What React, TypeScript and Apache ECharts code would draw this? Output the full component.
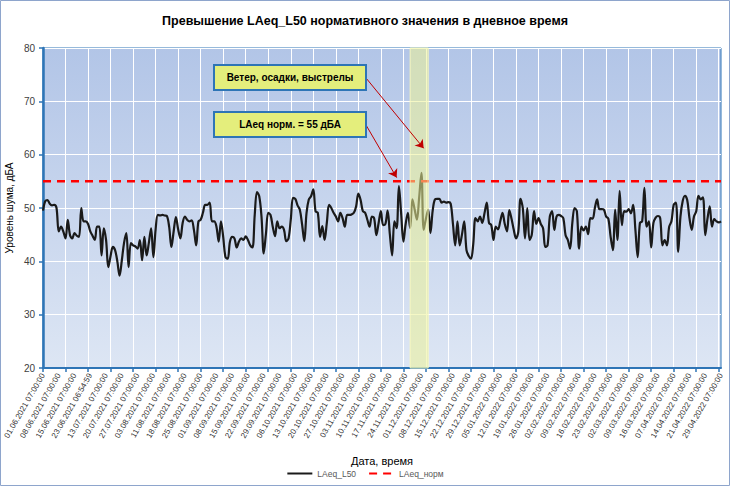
import React, { useEffect, useRef } from 'react';
import * as echarts from 'echarts';

const FONT = '"Liberation Sans", Arial, sans-serif';

const TITLE = 'Превышение LAeq_L50 нормативного значения в дневное время';

// tick labels: every 7th category carries one
const labelDates = [
  '01.06.2021 07:00:00', '08.06.2021 07:00:00', '15.06.2021 07:00:00', '23.06.2021 06:54:59',
  '13.07.2021 07:00:00', '20.07.2021 07:00:00', '27.07.2021 07:00:00', '03.08.2021 07:00:00',
  '11.08.2021 07:00:00', '18.08.2021 07:00:00', '25.08.2021 07:00:00', '01.09.2021 07:00:00',
  '08.09.2021 07:00:00', '15.09.2021 07:00:00', '22.09.2021 07:00:00', '29.09.2021 07:00:00',
  '06.10.2021 07:00:00', '13.10.2021 07:00:00', '20.10.2021 07:00:00', '27.10.2021 07:00:00',
  '03.11.2021 07:00:00', '10.11.2021 07:00:00', '17.11.2021 07:00:00', '24.11.2021 07:00:00',
  '01.12.2021 07:00:00', '08.12.2021 07:00:00', '15.12.2021 07:00:00', '22.12.2021 07:00:00',
  '29.12.2021 07:00:00', '05.01.2022 07:00:00', '12.01.2022 07:00:00', '19.01.2022 07:00:00',
  '26.01.2022 07:00:00', '02.02.2022 07:00:00', '09.02.2022 07:00:00', '16.02.2022 07:00:00',
  '23.02.2022 07:00:00', '02.03.2022 07:00:00', '09.03.2022 07:00:00', '16.03.2022 07:00:00',
  '07.04.2022 07:00:00', '14.04.2022 07:00:00', '21.04.2022 07:00:00', '29.04.2022 07:00:00',
];

// LAeq_L50 values, dB(A)
const levelsJunJul = [
  49.5, 51.3, 51.5, 50.8, 50.5, 50.6, 50.0, 45.6, 46.5, 45.6,
  44.3, 47.8, 44.9, 44.3, 45.3, 44.8, 44.6, 50.0, 47.5, 47.5,
  47.0, 45.6, 44.8, 44.0, 46.5, 46.5, 41.1, 46.2, 44.0, 38.9,
  41.0, 42.7, 42.1, 40.0, 37.3, 40.2, 43.5, 45.3, 38.9, 43.4,
  43.0, 42.8, 42.4, 44.0, 40.2, 44.6, 41.1, 43.5, 46.2, 40.8,
];
const levelsAugSep = [
  46.0, 48.7, 48.6, 48.7, 48.6, 48.5, 46.5, 42.7, 45.6, 48.3,
  46.0, 44.3, 47.2, 48.4, 47.8, 47.5, 47.7, 45.9, 43.0, 47.5,
  47.8, 49.1, 50.6, 50.6, 51.0, 47.5, 47.5, 46.5, 43.7, 47.5,
  44.6, 40.8, 40.5, 43.7, 44.6, 44.3, 42.6, 43.7, 44.3, 44.0,
  44.7, 44.0, 43.0, 42.6, 48.7, 53.0, 52.2, 48.4, 41.5, 45.3,
  49.1,
];
const levelsSepNov = [
  48.7, 46.5, 44.7, 47.5, 46.2, 46.5, 45.9, 43.8, 44.3, 47.8,
  51.9, 51.7, 50.5, 49.7, 47.0, 43.8, 49.1, 51.6, 52.2, 53.5,
  49.4, 49.1, 44.6, 46.6, 44.0, 47.2, 50.6, 50.0, 49.1, 48.4,
  47.5, 49.1, 48.1, 46.5, 48.7, 48.7, 48.8, 49.1, 50.3, 52.7,
  51.5, 49.4, 49.1, 47.8, 46.5, 48.4, 48.1, 44.9, 47.2, 49.4,
  46.8,
];
const levelsNovJan = [
  47.0, 49.5, 45.0, 41.1, 47.5, 46.2, 54.1, 49.0, 43.7, 47.0,
  49.1, 46.2, 51.6, 49.7, 47.8, 52.0, 56.6, 45.9, 48.0, 49.7,
  45.3, 49.5, 51.6, 51.7, 51.7, 51.0, 51.2, 51.0, 51.1, 50.8,
  47.0, 43.0, 47.5, 43.0, 45.0, 47.5, 42.1, 41.0, 40.5, 43.2,
  48.1, 47.5, 48.4, 47.2, 49.0, 51.0, 47.2, 46.8, 44.0, 46.5,
  46.0,
];
const levelsJanMar = [
  47.5, 49.1, 47.0, 45.6, 49.6, 48.0, 45.9, 44.3, 45.5, 51.7,
  50.0, 44.3, 50.0, 44.0, 45.0, 49.4, 47.0, 48.1, 47.0, 46.2,
  42.7, 43.0, 48.4, 49.4, 45.9, 48.4, 48.7, 48.5, 48.1, 44.9,
  44.0, 42.4, 47.2, 50.0, 49.4, 42.4, 46.5, 45.8, 46.5, 45.1,
  48.1, 48.0, 50.0, 51.6, 49.8, 49.8, 49.7, 48.4, 48.0, 44.6,
  42.1, 49.7,
];
const levelsMarApr = [
  44.0, 53.2, 46.8, 49.4, 49.3, 49.8, 49.0, 50.6, 45.9, 40.8,
  47.2, 47.5, 53.8, 46.5, 47.5, 42.6, 47.2, 48.2, 48.5, 48.1,
  43.0, 44.0, 43.0, 46.5, 47.5, 50.6, 51.0, 41.8, 48.4, 51.3,
  52.3, 51.5, 48.1, 45.9, 48.4, 49.4, 52.3, 51.6, 52.0, 44.9,
  48.0, 50.3, 46.5, 47.9, 47.5, 47.3, 47.5,
];

const NORM = 55;
// highlighted period (category indices) and arrow targets [index, value]
const bandRange = [163, 171];
const arrowWind = [169, 61.2];
const arrowNorm = [157, 55.7];

const pad = (n: number) => (n < 10 ? '0' + n : '' + n);

function buildCategories(): string[] {
  const out: string[] = [];
  labelDates.forEach((lab, k) => {
    out.push(lab);
    if (k === labelDates.length - 1) return;
    const [d, m, y] = lab.slice(0, 10).split('.').map(Number);
    for (let j = 1; j < 7; j++) {
      const dt = new Date(Date.UTC(y, m - 1, d + j));
      out.push(pad(dt.getUTCDate()) + '.' + pad(dt.getUTCMonth() + 1) + '.' + dt.getUTCFullYear() + ' 07:00:00');
    }
  });
  return out;
}

export default function App() {
  const ref = useRef<HTMLDivElement>(null);

  useEffect(() => {
    document.body.style.margin = '0';
    if (!ref.current) return;
    const chart = echarts.init(ref.current, null, { renderer: 'svg' });
    const categories = buildCategories();
    const levels = [
      ...levelsJunJul, ...levelsAugSep, ...levelsSepNov,
      ...levelsNovJan, ...levelsJanMar, ...levelsMarApr,
    ];
    const normValues = categories.map(() => NORM);
    const blue = '#2e75b6';

    chart.setOption({
      animation: false,
      backgroundColor: '#ffffff',
      textStyle: { fontFamily: FONT },
      title: {
        text: TITLE,
        left: 'center',
        top: 9,
        textStyle: { fontSize: 12.5, fontWeight: 'bold', color: '#000', fontFamily: FONT },
      },
      legend: {
        top: 464,
        left: 'center',
        itemWidth: 25,
        itemHeight: 10,
        itemGap: 12,
        itemStyle: { opacity: 0 },
        textStyle: { fontSize: 8.5, color: '#595959', fontFamily: FONT },
        data: ['LAeq_L50', 'LAeq_норм'],
      },
      grid: {
        left: 43,
        right: 9,
        top: 48,
        bottom: 118,
        outerBoundsMode: 'none',
        containLabel: false,
        show: true,
        borderColor: blue,
        borderWidth: 1,
        backgroundColor: {
          type: 'linear', x: 0, y: 0, x2: 0, y2: 1,
          colorStops: [
            { offset: 0, color: '#b2c5e7' },
            { offset: 1, color: '#dde6f4' },
          ],
        },
      },
      xAxis: {
        type: 'category',
        data: categories,
        boundaryGap: false,
        name: 'Дата, время',
        nameLocation: 'middle',
        nameGap: 87,
        nameMoveOverlap: false,
        nameTextStyle: { fontSize: 11, color: '#000', fontFamily: FONT },
        axisLine: { lineStyle: { color: blue, width: 2 } },
        axisTick: { interval: 9, length: 4, lineStyle: { color: blue, width: 1.5 } },
        axisLabel: { interval: 6, rotate: 60, fontSize: 8, color: '#333333', margin: 6, fontFamily: FONT },
        splitLine: { show: true, interval: 9, lineStyle: { color: '#ffffff', width: 1 } },
      },
      yAxis: {
        type: 'value',
        min: 20,
        max: 80,
        interval: 10,
        name: 'Уровень шума, дБА',
        nameLocation: 'middle',
        nameGap: 29,
        nameMoveOverlap: false,
        nameTextStyle: { fontSize: 10, color: '#000', fontFamily: FONT },
        axisLine: { show: true, lineStyle: { color: blue, width: 2.5 } },
        axisTick: { show: true, length: 4, lineStyle: { color: blue, width: 1.5 } },
        axisLabel: { fontSize: 10, color: '#404040', margin: 8, fontFamily: FONT },
        splitLine: { show: true, lineStyle: { color: '#ffffff', width: 1 } },
      },
      series: [
        {
          name: 'LAeq_L50',
          type: 'line',
          data: levels,
          smooth: 0.35,
          symbol: 'none',
          z: 3,
          lineStyle: { color: '#1a1a1a', width: 2.2 },
          itemStyle: { color: '#1a1a1a' },
        },
        {
          name: 'LAeq_норм',
          type: 'line',
          data: normValues,
          symbol: 'none',
          z: 4,
          lineStyle: { color: '#ff0000', width: 2.5, type: [8, 6] },
          itemStyle: { color: '#ff0000' },
          markArea: {
            silent: true,
            z: 5,
            itemStyle: {
              color: 'rgba(236,242,150,0.55)',
              borderColor: 'rgba(250,250,190,0.9)',
              borderWidth: 1,
            },
            data: [[{ xAxis: categories[bandRange[0]] }, { xAxis: categories[bandRange[1]] }]],
          },
          markLine: {
            silent: true,
            z: 6,
            symbol: ['none', 'arrow'],
            symbolSize: 8,
            label: { show: false },
            lineStyle: { color: '#c00000', width: 1, type: 'solid' },
            data: [
              [{ x: 366, y: 78 }, { coord: [categories[arrowWind[0]], arrowWind[1]] }],
              [{ x: 366, y: 125 }, { coord: [categories[arrowNorm[0]], arrowNorm[1]] }],
            ],
          },
        },
      ],
      graphic: [
        {
          type: 'rect',
          shape: { x: 0.5, y: 0.5, width: 729, height: 485 },
          style: { fill: 'none', stroke: '#8ea5cc', lineWidth: 1 },
          silent: true,
        },
        {
          type: 'rect',
          z: 100,
          shape: { x: 214, y: 65, width: 152, height: 25 },
          style: { fill: '#e4ee7c', stroke: blue, lineWidth: 2 },
        },
        {
          type: 'text',
          z: 101,
          x: 290, y: 77.5,
          style: {
            text: 'Ветер, осадки, выстрелы',
            fill: '#000', fontSize: 10, fontWeight: 'bold', fontFamily: FONT,
            align: 'center', verticalAlign: 'middle',
          },
        },
        {
          type: 'rect',
          z: 100,
          shape: { x: 214, y: 112, width: 152, height: 25 },
          style: { fill: '#e4ee7c', stroke: blue, lineWidth: 2 },
        },
        {
          type: 'text',
          z: 101,
          x: 290, y: 124.5,
          style: {
            text: 'LAeq норм. = 55 дБА',
            fill: '#000', fontSize: 10, fontWeight: 'bold', fontFamily: FONT,
            align: 'center', verticalAlign: 'middle',
          },
        },
      ],
    });

    return () => chart.dispose();
  }, []);

  return <div ref={ref} style={{ width: 730, height: 486 }} />;
}
